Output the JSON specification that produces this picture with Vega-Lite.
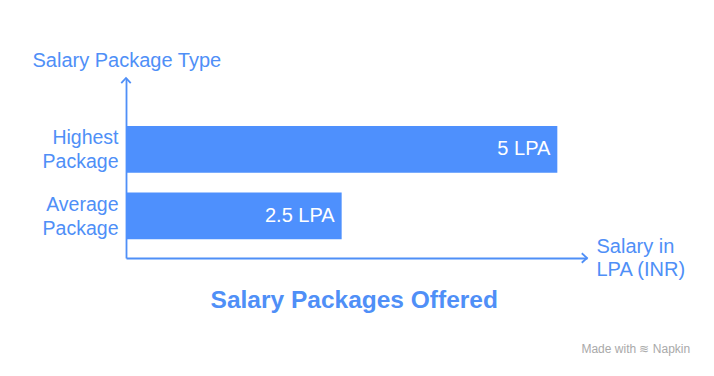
{
  "$schema": "https://vega.github.io/schema/vega-lite/v6.json",
  "autosize": "none",
  "width": 461,
  "height": 180,
  "padding": {"left": 126, "top": 78, "right": 127, "bottom": 118},
  "background": "white",
  "config": {
    "view": {"stroke": null},
    "font": "Liberation Sans",
    "text": {"font": "Liberation Sans"}
  },
  "datasets": {
    "pkgs": [
      {"type": "Highest Package", "lpa": 5, "label": "5 LPA"},
      {"type": "Average Package", "lpa": 2.5, "label": "2.5 LPA"}
    ]
  },
  "layer": [
    {
      "data": {"name": "pkgs"},
      "encoding": {
        "y": {
          "field": "type",
          "type": "nominal",
          "sort": ["Highest Package", "Average Package"],
          "scale": {"paddingInner": 0.3, "paddingOuter": 0.5014, "align": 0.719},
          "axis": {
            "title": "Salary Package Type",
            "titleAngle": 0,
            "titleAlign": "left",
            "titleBaseline": "alphabetic",
            "titleX": -94,
            "titleY": -12,
            "titleFontSize": 20,
            "titleFontWeight": "normal",
            "titleColor": "#4f8ff7",
            "titleFont": "Liberation Sans",
            "domain": true,
            "domainColor": "#4f8ff7",
            "domainWidth": 1.8,
            "ticks": false,
            "grid": false,
            "labelPadding": 8,
            "labelFontSize": 19.5,
            "labelColor": "#4f8ff7",
            "labelFont": "Liberation Sans",
            "labelLineHeight": 24,
            "labelOffset": -11,
            "labelExpr": "split(datum.label, ' ')"
          }
        },
        "x": {
          "field": "lpa",
          "type": "quantitative",
          "scale": {"domain": [0, 5.344], "nice": false, "zero": true},
          "axis": {
            "title": ["Salary in", "LPA (INR)"],
            "titleAlign": "left",
            "titleBaseline": "alphabetic",
            "titleX": 470,
            "titleY": -6,
            "titleAnchor": "start",
            "titleFontSize": 20,
            "titleFontWeight": "normal",
            "titleColor": "#4f8ff7",
            "titleFont": "Liberation Sans",
            "titleLineHeight": 23,
            "domain": true,
            "domainColor": "#4f8ff7",
            "domainWidth": 1.8,
            "ticks": false,
            "labels": false,
            "grid": false
          }
        }
      },
      "layer": [
        {"mark": {"type": "bar", "color": "#4e90fd", "cornerRadius": 0}},
        {
          "mark": {"type": "text", "align": "right", "baseline": "middle", "dx": -7, "fontSize": 20, "color": "white", "font": "Liberation Sans"},
          "encoding": {"text": {"field": "label"}}
        }
      ]
    },
    {
      "data": {"values": [{"edge": "y"}]},
      "mark": {"type": "point", "shape": "M-1,1.1L0,0L1,1.1", "size": 90, "filled": false, "stroke": "#4f8ff7", "strokeWidth": 1.8, "opacity": 1},
      "encoding": {
        "x": {"datum": 0, "type": "quantitative", "scale": {"domain": [0, 5.344], "nice": false}},
        "y": {"datum": 1, "type": "quantitative", "scale": {"domain": [0, 1], "nice": false}, "axis": null}
      }
    },
    {
      "data": {"values": [{"edge": "x"}]},
      "mark": {"type": "point", "shape": "M-1.1,-1L0,0L-1.1,1", "size": 90, "filled": false, "stroke": "#4f8ff7", "strokeWidth": 1.8, "opacity": 1},
      "encoding": {
        "x": {"datum": 5.344, "type": "quantitative", "scale": {"domain": [0, 5.344], "nice": false}},
        "y": {"datum": 0, "type": "quantitative", "scale": {"domain": [0, 1], "nice": false}, "axis": null}
      }
    },
    {
      "data": {"values": [{"title": "Salary Packages Offered"}]},
      "mark": {"type": "text", "align": "center", "baseline": "alphabetic", "fontSize": 24.5, "fontWeight": "bold", "color": "#4f8ff7", "font": "Liberation Sans"},
      "encoding": {
        "text": {"field": "title"},
        "x": {"datum": 2.646, "type": "quantitative", "scale": {"domain": [0, 5.344], "nice": false}},
        "y": {"datum": -0.278, "type": "quantitative", "scale": {"domain": [0, 1], "nice": false}, "axis": null}
      }
    },
    {
      "data": {"values": [{"note": "Made with ≋ Napkin"}]},
      "mark": {"type": "text", "align": "right", "baseline": "middle", "fontSize": 12, "color": "#a9a9a9", "font": "Liberation Sans"},
      "encoding": {
        "text": {"field": "note"},
        "x": {"datum": 6.54, "type": "quantitative", "scale": {"domain": [0, 5.344], "nice": false}},
        "y": {"datum": -0.506, "type": "quantitative", "scale": {"domain": [0, 1], "nice": false}, "axis": null}
      }
    }
  ],
  "resolve": {"scale": {"y": "independent"}, "axis": {"y": "independent"}}
}
